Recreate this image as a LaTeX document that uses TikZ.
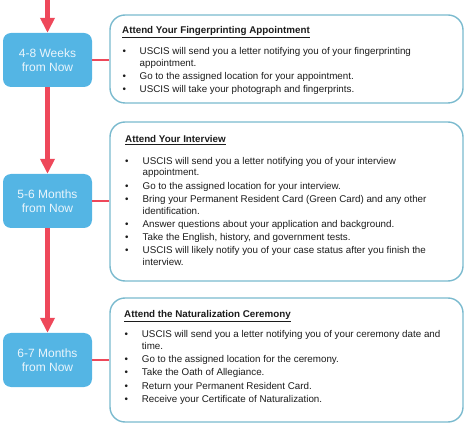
\documentclass[tikz,border=0pt]{standalone}
\usepackage{fontspec}
\setmainfont{Liberation Sans}
\usetikzlibrary{arrows.meta}

\definecolor{stepblue}{RGB}{84,181,228}
\definecolor{steptext}{RGB}{234,245,252}
\definecolor{linkred}{RGB}{238,72,90}
\definecolor{panelframe}{RGB}{122,186,206}
\definecolor{bodytext}{RGB}{28,28,28}

\begin{document}
\begin{tikzpicture}[x=1pt,y=1pt,yscale=-1,
  stepbox/.style={fill=stepblue,rounded corners=8pt,minimum width=89pt,minimum height=54pt,inner sep=0pt,
    text=steptext,align=center,font=\fontsize{12}{14}\selectfont},
  panel/.style={draw=panelframe,line width=1.4pt,rounded corners=15pt,minimum width=353pt,inner sep=0pt},
  flow/.style={draw=linkred,line width=5pt,-{Triangle[length=15pt,width=14pt]}},
  link/.style={draw=linkred,line width=2.2pt},
  heading/.style={anchor=base west,inner sep=0pt,text=bodytext,font=\fontsize{9.8}{11.8}\selectfont\bfseries},
  items/.style={anchor=base west,inner sep=0pt,text=bodytext,font=\fontsize{9.8}{11.8}\selectfont}]

\useasboundingbox (0,0) rectangle (474,438);

%Time steps
\node [stepbox] (weeks) at (47.5,60) {4-8 Weeks\\from Now};
\node [stepbox] (months56) at (47.5,201) {5-6 Months\\from Now};
\node [stepbox] (months67) at (47.5,360) {6-7 Months\\from Now};
\coordinate (start) at (47.5,0);

%Panels
\node [panel,minimum height=88pt] (finger) at (286.5,59) {};
\node [panel,minimum height=159pt] (interview) at (286.5,201.5) {};
\node [panel,minimum height=124pt] (ceremony) at (286.5,360) {};

%Flow arrows
\draw [flow] (start) -- (weeks.north);
\draw [flow] (weeks.south) -- (months56.north);
\draw [flow] (months56.south) -- (months67.north);

%Links to panels
\draw [link] (weeks.east) -- (weeks.east -| finger.west);
\draw [link] (months56.east) -- (months56.east -| interview.west);
\draw [link] (months67.east) -- (months67.east -| ceremony.west);

% Text Node
\node [heading] (fingerhead) at (122,33.5) {\underline{Attend Your Fingerprinting Appointment}};
% Text Node
\node [items] (fingerlist) at (122.5,54.5) {\begin{tabular}[t]{@{}l@{}l@{}}
\makebox[17pt][l]{\textbullet} & USCIS will send you a letter notifying you of your fingerprinting\\
 & appointment.\\[1.4pt]
\makebox[17pt][l]{\textbullet} & Go to the assigned location for your appointment.\\[1.4pt]
\makebox[17pt][l]{\textbullet} & USCIS will take your photograph and fingerprints.
\end{tabular}};

% Text Node
\node [heading] (interviewhead) at (125,142.5) {\underline{Attend Your Interview}};
% Text Node
\node [items] (interviewlist) at (125,164.2) {\begin{tabular}[t]{@{}l@{}l@{}}
\makebox[17.5pt][l]{\textbullet} & USCIS will send you a letter notifying you of your interview\\
 & appointment.\\[1.4pt]
\makebox[17.5pt][l]{\textbullet} & Go to the assigned location for your interview.\\[1.4pt]
\makebox[17.5pt][l]{\textbullet} & Bring your Permanent Resident Card (Green Card) and any other\\
 & identification.\\[1.4pt]
\makebox[17.5pt][l]{\textbullet} & Answer questions about your application and background.\\[1.4pt]
\makebox[17.5pt][l]{\textbullet} & Take the English, history, and government tests.\\[1.4pt]
\makebox[17.5pt][l]{\textbullet} & USCIS will likely notify you of your case status after you finish the\\
 & interview.
\end{tabular}};

% Text Node
\node [heading] (ceremonyhead) at (124,317.8) {\underline{Attend the Naturalization Ceremony}};
% Text Node
\node [items] (ceremonylist) at (124.3,337.8) {\begin{tabular}[t]{@{}l@{}l@{}}
\makebox[17.4pt][l]{\textbullet} & USCIS will send you a letter notifying you of your ceremony date and\\
 & time.\\[1.4pt]
\makebox[17.4pt][l]{\textbullet} & Go to the assigned location for the ceremony.\\[1.4pt]
\makebox[17.4pt][l]{\textbullet} & Take the Oath of Allegiance.\\[1.4pt]
\makebox[17.4pt][l]{\textbullet} & Return your Permanent Resident Card.\\[1.4pt]
\makebox[17.4pt][l]{\textbullet} & Receive your Certificate of Naturalization.
\end{tabular}};

\end{tikzpicture}
\end{document}
